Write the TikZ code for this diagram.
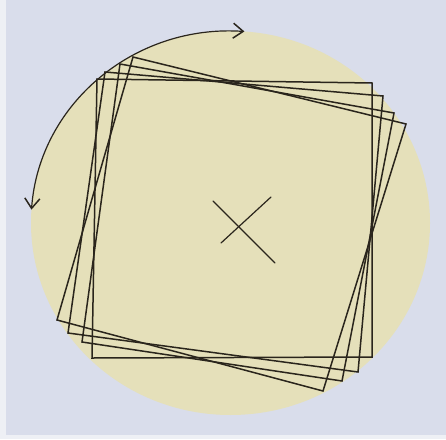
\documentclass[tikz,border=0pt]{standalone}
\usepackage{xcolor}
\usetikzlibrary{arrows.meta}
\definecolor{paperblue}{RGB}{217,221,235}
\definecolor{paperedge}{RGB}{238,240,245}
\definecolor{diskcream}{RGB}{229,224,186}
\definecolor{inkbrown}{RGB}{42,37,28}

\begin{document}
\begin{tikzpicture}[
    x=1pt, y=-1pt,
    ink/.style={draw=inkbrown,line width=1.5pt,line join=miter},
    thinink/.style={draw=inkbrown,line width=1.2pt,line cap=round},
    turn/.style={thinink,{Straight Barb[length=10pt,width=15pt,line width=1.5pt]}-{Straight Barb[length=10pt,width=15pt,line width=1.5pt]}}
  ]
    \useasboundingbox (0,0) rectangle (446,439);
    \fill[paperedge] (0,0) rectangle (446,439);
    \fill[paperblue] (6,0) rectangle (446,435);

    % the disk
    \coordinate (mid) at (230.5,223);
    \fill[diskcream] (mid) ellipse [x radius=199.5, y radius=192];

    % turning arrows along the rim
    \draw[turn] (mid) ++(184:199.5 and 192)
      arc[start angle=184, end angle=274, x radius=199.5, y radius=192];

    % the squares, turned step by step
    \draw[ink] (97,79) -- (372,83) -- (372,357) -- (92,358) -- cycle;
    \draw[ink] (105,72) -- (383,96) -- (358,372) -- (68,333) -- cycle;
    \draw[ink] (120,64) -- (394,113) -- (342,381) -- (82,342) -- cycle;
    \draw[ink] (133,57) -- (406,124) -- (323,391) -- (57,320) -- cycle;

    % centre mark
    \draw[thinink] (213,201) -- (275,263);
    \draw[thinink] (221,243) -- (271,197);
  \end{tikzpicture}
\end{document}
